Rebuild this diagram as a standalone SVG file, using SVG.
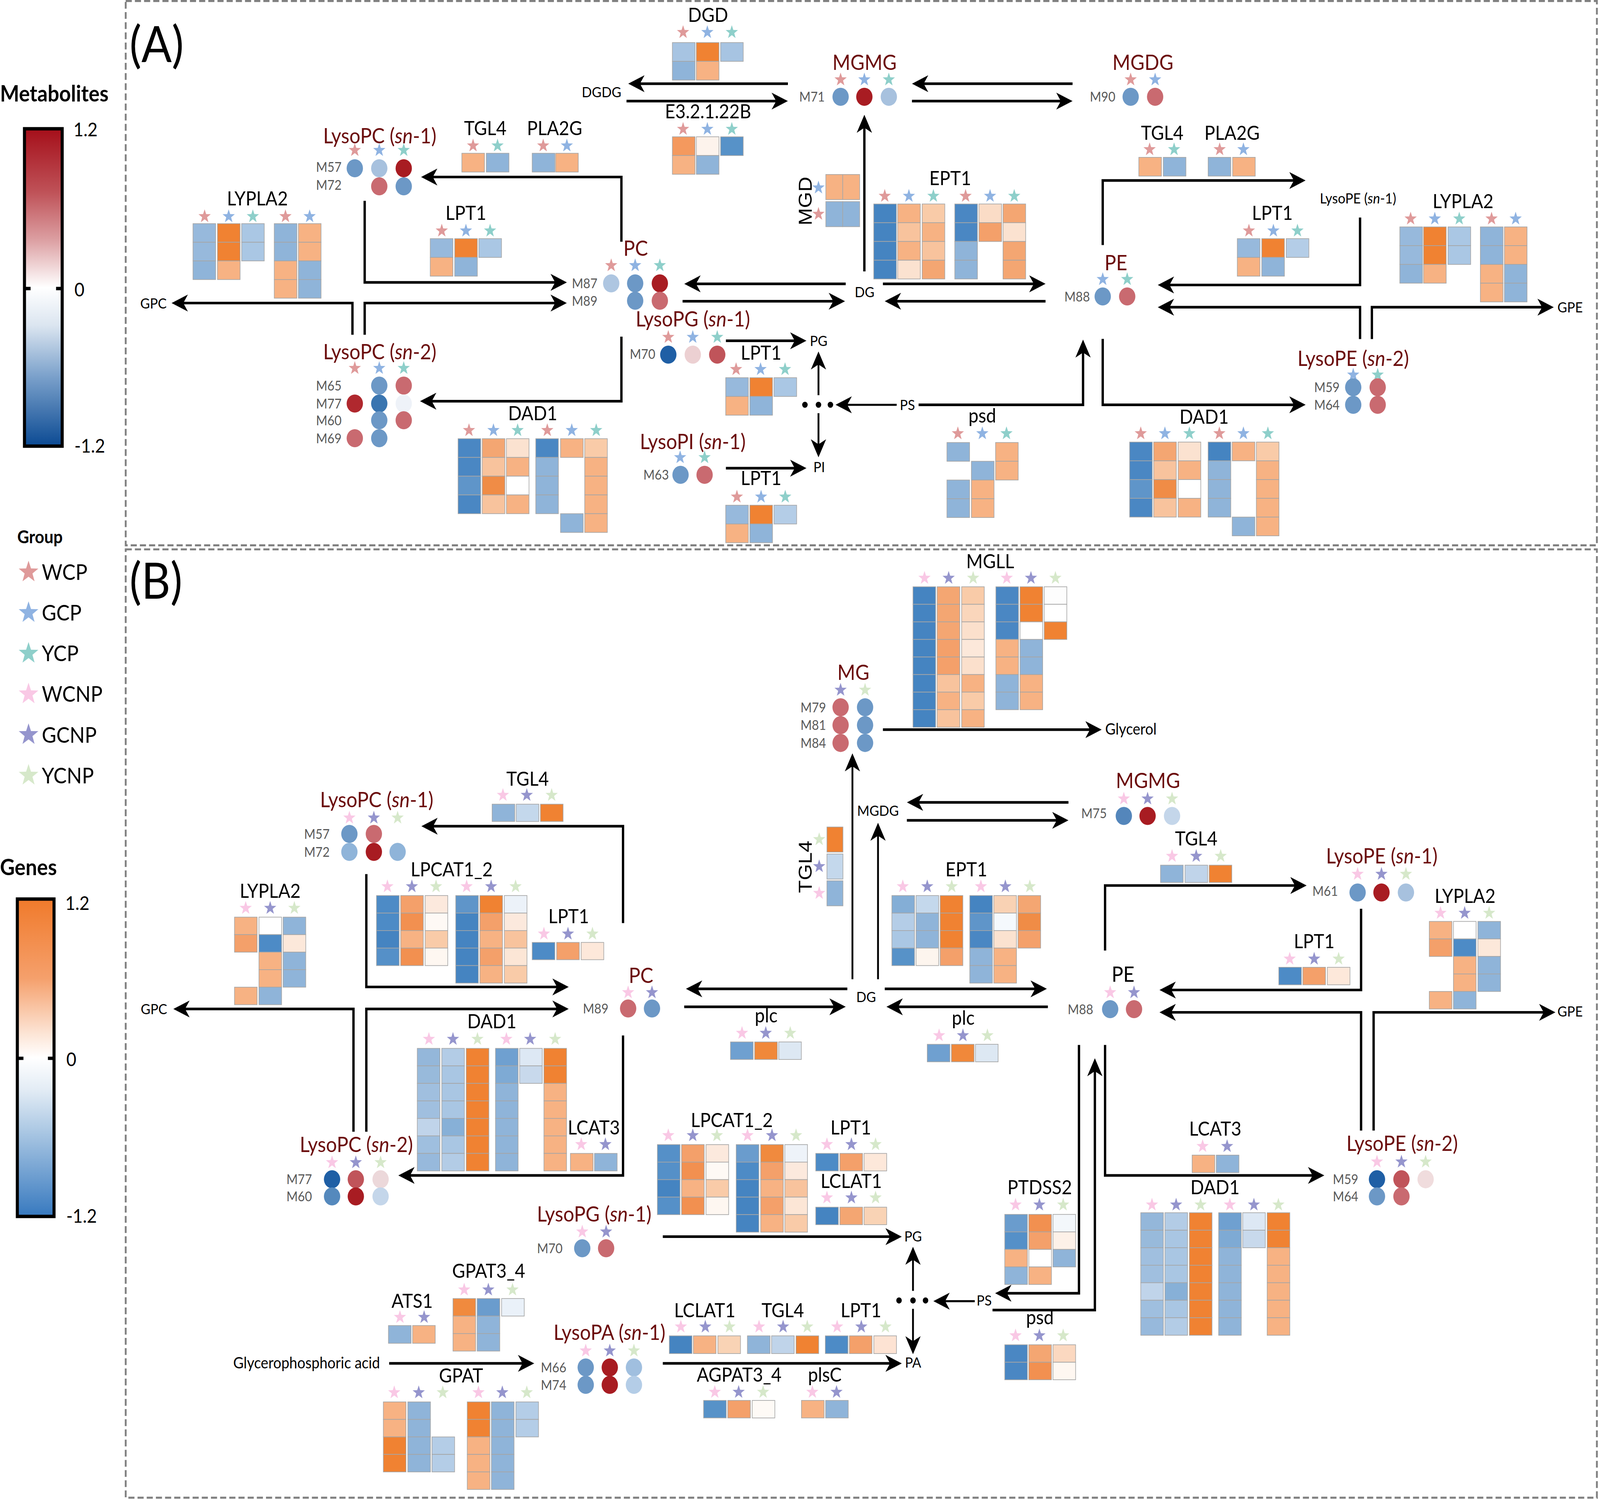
<svg xmlns="http://www.w3.org/2000/svg" width="4535" height="3841" viewBox="0 0 4535 3841">
<defs>
<style>
text{font-family:Lato,"Liberation Sans",sans-serif}
.g{font-size:17.5px;text-anchor:middle;fill:#000}
.m{font-size:19px;text-anchor:middle;fill:#6b0c0c}
.k{fill:#000}
.i{font-size:12px;text-anchor:end;fill:#595959}
.s{font-size:13px;text-anchor:middle;fill:#000}
.r{font-family:"Liberation Sans",Arial,sans-serif;font-size:18.5px;text-anchor:middle}
.ln{fill:none;stroke:#000;stroke-width:2.3;marker-end:url(#ah)}
.t{stroke-width:1.8}
.hm rect{stroke:#a6a6a6;stroke-width:.6}
.s1{fill:#df9a9a}.s2{fill:#8fb3e2}.s3{fill:#8ecfca}.s4{fill:#f9c8e5}.s5{fill:#9595cd}.s6{fill:#d6e8ca}
.box{fill:none;stroke:#808080;stroke-width:1.8;stroke-dasharray:6 3}
.leg{font-size:19.5px}
.b{font-weight:bold}
</style>
<path id="st" d="M0,-6.3L1.5,-2.05L6,-1.95L2.4,0.78L3.7,5.1L0,2.55L-3.7,5.1L-2.4,0.78L-6,-1.95L-1.5,-2.05Z"/>
<marker id="ah" viewBox="0 0 16 15" refX="13" refY="7.5" markerWidth="16" markerHeight="15" orient="auto" markerUnits="userSpaceOnUse"><path d="M0,0L16,7.5L0,15L4.5,7.5Z" fill="#000"/></marker>
<linearGradient id="gm" x1="0" y1="0" x2="0" y2="1">
<stop offset="0" stop-color="#a50f1a"/><stop offset="0.2" stop-color="#bf5258"/><stop offset="0.35" stop-color="#dc9fa2"/><stop offset="0.5" stop-color="#ffffff"/><stop offset="0.62" stop-color="#dbe5f0"/><stop offset="0.78" stop-color="#7ba1cb"/><stop offset="1" stop-color="#0b4a93"/>
</linearGradient>
<linearGradient id="gg" x1="0" y1="0" x2="0" y2="1">
<stop offset="0" stop-color="#f07a2b"/><stop offset="0.25" stop-color="#f5a06c"/><stop offset="0.42" stop-color="#fce3d3"/><stop offset="0.5" stop-color="#ffffff"/><stop offset="0.6" stop-color="#e3ecf5"/><stop offset="0.72" stop-color="#b0cbe5"/><stop offset="1" stop-color="#3779bf"/>
</linearGradient>
</defs>
<rect width="4535" height="3841" fill="#fff"/>
<g transform="scale(2.61,2.8922)">

<!-- panels -->
<rect class="box" x="123.3" y="0.9" width="1443" height="481.9"/>
<rect class="box" x="123.3" y="486.4" width="1443" height="839.6"/>
<text x="127" y="55" font-size="44">(A)</text>
<text x="127" y="530" font-size="44">(B)</text>

<!-- legend -->
<g id="legend">
<text class="b" x="0" y="90" font-size="20">Metabolites</text>
<rect x="24" y="114" width="37" height="281" fill="url(#gm)" stroke="#000" stroke-width="3"/>
<path d="M24,255.5h6M55,255.5h6" stroke="#000" stroke-width="3"/>
<text x="72" y="120.7" font-size="17">1.2</text>
<text x="73" y="262.5" font-size="17">0</text>
<text x="73" y="400.7" font-size="17">-1.2</text>
<text class="b" x="17" y="481" font-size="16">Group</text>
<use href="#st" class="s1" transform="translate(28,506.5) scale(1.6)"/><text class="leg" x="41" y="513.5">WCP</text>
<use href="#st" class="s2" transform="translate(28,542.5) scale(1.6)"/><text class="leg" x="41" y="549.5">GCP</text>
<use href="#st" class="s3" transform="translate(28,578.5) scale(1.6)"/><text class="leg" x="41" y="585.5">YCP</text>
<use href="#st" class="s4" transform="translate(28,614.5) scale(1.6)"/><text class="leg" x="41" y="621.5">WCNP</text>
<use href="#st" class="s5" transform="translate(28,650.5) scale(1.6)"/><text class="leg" x="41" y="657.5">GCNP</text>
<use href="#st" class="s6" transform="translate(28,686.5) scale(1.6)"/><text class="leg" x="41" y="693.5">YCNP</text>
<text class="b" x="0" y="775" font-size="20">Genes</text>
<rect x="17" y="796" width="36" height="281" fill="url(#gg)" stroke="#000" stroke-width="3"/>
<path d="M17,937h6M47,937h6" stroke="#000" stroke-width="3"/>
<text x="64" y="805.6" font-size="17">1.2</text>
<text x="65" y="944" font-size="17">0</text>
<text x="65" y="1082.6" font-size="17">-1.2</text>
</g>

<!-- connectors -->
<g id="connectors">
<path class="ln" d="M609.5,214V156.7H416"/>
<path class="ln" d="M357.7,177.8V250H553"/>
<path class="ln" d="M345.7,296.4V268.3H171.3"/>
<path class="ln" d="M357.7,296.4V268.3H553"/>
<path class="ln" d="M609.5,298V355.2H415"/>
<path class="ln" d="M772.8,74.1H619.2"/>
<path class="ln" d="M614.5,89.5H769.8"/>
<path class="ln" d="M1052,74.1H897.5"/>
<path class="ln" d="M894.5,89.5H1049"/>
<path class="ln" d="M847.8,240.3V104.6"/>
<path class="ln" d="M829.5,251.3H674.2"/>
<path class="ln" d="M669.5,266.7H825.8"/>
<path class="ln" d="M866,251.3H1022.5"/>
<path class="ln" d="M1025.5,266.7H870.8"/>
<path class="ln" d="M712,301.7H788"/>
<path class="ln t" d="M802.8,349.9V314.2"/>
<path class="ln t" d="M802.8,365.8V401.9"/>
<path class="ln" d="M712,414.5H788"/>
<path class="ln t" d="M879.5,358.4H822.5"/>
<path class="ln" d="M901,358.4H1062.3V303.6"/>
<path class="ln" d="M1081.6,217V159.8H1277.6"/>
<path class="ln" d="M1334,192.6V252.3H1138.6"/>
<path class="ln" d="M1334,300.2V272H1138.6"/>
<path class="ln" d="M1345.6,300.2V272H1521"/>
<path class="ln" d="M1081.6,300V358.4H1277.6"/>
<circle cx="789.5" cy="358.4" r="2.7"/><circle cx="802.8" cy="358.4" r="2.7"/><circle cx="814.5" cy="358.4" r="2.7"/>

<path class="ln" d="M611.1,817.3V731.5H416.3"/>
<path class="ln" d="M359.3,773.9V873.8H554.8"/>
<path class="ln" d="M346.7,1002V893.3H173"/>
<path class="ln" d="M359.3,1002V893.3H554.8"/>
<path class="ln" d="M611.1,916.8V1040.7H393.7"/>
<path class="ln" d="M831.1,875.5H675.8"/>
<path class="ln" d="M671.1,891.4H826.5"/>
<path class="ln" d="M867.8,875.5H1023.8"/>
<path class="ln" d="M1027.8,891.4H872.5"/>
<path class="ln t" d="M836.1,867V670"/>
<path class="ln t" d="M861.2,867V731.4"/>
<path class="ln" d="M1048,710.4H892.5"/>
<path class="ln" d="M889.5,726.3H1045"/>
<path class="ln" d="M866,646H1077.6"/>
<path class="ln" d="M1083.9,841.6V784H1278.6"/>
<path class="ln" d="M1335,804.6V876.5H1140.3"/>
<path class="ln" d="M1335,1001V896.3H1140.3"/>
<path class="ln" d="M1347.3,1001V896.3H1522.6"/>
<path class="ln" d="M1083.9,925.2V1040.7H1295.9"/>
<path class="ln" d="M1058.3,925.2V1145H979.1"/>
<path class="ln" d="M973.5,1159.9H1073.9V939.9"/>
<path class="ln t" d="M956.1,1152H918.5"/>
<path class="ln t" d="M895.5,1142.9V1106.8"/>
<path class="ln t" d="M895.5,1158.8V1196"/>
<path class="ln" d="M650.1,1094.9H881.5"/>
<path class="ln" d="M650.1,1207.1H881.5"/>
<path class="ln" d="M381.7,1207.1H521"/>
<circle cx="881.8" cy="1151.4" r="2.7"/><circle cx="895.5" cy="1151.4" r="2.7"/><circle cx="907.8" cy="1151.4" r="2.7"/>
</g>

<!-- small node labels -->
<g id="small-labels">
<text class="s" x="590" y="86">DGDG</text>
<text class="s" x="150.5" y="273">GPC</text>
<text class="s" x="848" y="263.2">DG</text>
<text class="s" x="803" y="306.2">PG</text>
<text class="s" x="803.5" y="418">PI</text>
<text class="s" x="890" y="362.9">PS</text>
<text class="s" x="1540" y="276.5">GPE</text>
<text class="s" x="1332" y="180">LysoPE (<tspan font-style="italic">sn</tspan>-1)</text>
<text class="s" x="151" y="897.8">GPC</text>
<text class="s" x="849.5" y="887.2">DG</text>
<text class="s" x="895.6" y="1099.2">PG</text>
<text class="s" x="895.6" y="1210.9">PA</text>
<text class="s" x="965.3" y="1155.9">PS</text>
<text class="s" x="1540" y="900">GPE</text>
<text class="s" x="861.2" y="722.3">MGDG</text>
<text x="1084" y="650.5" font-size="14">Glycerol</text>
<text x="372.7" y="1211.4" font-size="14" text-anchor="end">Glycerophosphoric acid</text>
</g>

<!-- ===== Panel A nodes ===== -->
<g id="a-tgl4-l"><text class="g" x="476" y="119.6">TGL4</text>
<use href="#st" class="s1" x="464" y="129"/><use href="#st" class="s3" x="488" y="129"/>
<g class="hm"><rect x="453" y="135.7" width="22.2" height="16.6" fill="#f7b283"/><rect x="477" y="135.7" width="22.2" height="16.6" fill="#8fb4d9"/></g></g>

<g id="a-pla2g-l"><text class="g" x="544" y="119.6">PLA2G</text>
<use href="#st" class="s1" x="532.8" y="129"/><use href="#st" class="s2" x="556" y="129"/>
<g class="hm"><rect x="522" y="135.7" width="22.2" height="16.6" fill="#8fb4d9"/><rect x="545" y="135.7" width="22.2" height="16.6" fill="#f7b283"/></g></g>

<g id="a-lypla2-l"><text class="g" x="252.5" y="182">LYPLA2</text>
<use href="#st" class="s1" x="200.7" y="191.6"/><use href="#st" class="s2" x="224.3" y="191.6"/><use href="#st" class="s3" x="248" y="191.6"/><use href="#st" class="s1" x="280" y="191.6"/><use href="#st" class="s2" x="303.7" y="191.6"/>
<g class="hm">
<rect x="189.3" y="198" width="22.2" height="16.5" fill="#97b9dc"/><rect x="189.3" y="214.5" width="22.2" height="16.5" fill="#97b9dc"/><rect x="189.3" y="231" width="22.2" height="16.5" fill="#8fb4d9"/>
<rect x="213.3" y="198" width="22.2" height="16.5" fill="#f08232"/><rect x="213.3" y="214.5" width="22.2" height="16.5" fill="#f08232"/><rect x="213.3" y="231" width="22.2" height="16.5" fill="#f7b283"/>
<rect x="237" y="198" width="22.2" height="16.5" fill="#aac7e4"/><rect x="237" y="214.5" width="22.2" height="16.5" fill="#aac7e4"/>
<rect x="269" y="198" width="22.2" height="16.5" fill="#8fb4d9"/><rect x="269" y="214.5" width="22.2" height="16.5" fill="#8fb4d9"/><rect x="269" y="231" width="22.2" height="16.5" fill="#f7b283"/><rect x="269" y="247.5" width="22.2" height="16.5" fill="#f7b283"/>
<rect x="292.7" y="198" width="22.2" height="16.5" fill="#f7b283"/><rect x="292.7" y="214.5" width="22.2" height="16.5" fill="#f7b283"/><rect x="292.7" y="231" width="22.2" height="16.5" fill="#8fb4d9"/><rect x="292.7" y="247.5" width="22.2" height="16.5" fill="#8fb4d9"/>
</g></g>

<g id="a-lpt1-l"><text class="g" x="457" y="194.8">LPT1</text>
<use href="#st" class="s1" x="433.3" y="204.3"/><use href="#st" class="s2" x="457" y="204.3"/><use href="#st" class="s3" x="480.7" y="204.3"/>
<g class="hm"><rect x="422" y="211.3" width="22.2" height="16.6" fill="#97b9dc"/><rect x="422" y="227.9" width="22.2" height="16.6" fill="#f7b283"/><rect x="446" y="211.3" width="22.2" height="16.6" fill="#f08232"/><rect x="446" y="227.9" width="22.2" height="16.6" fill="#8fb4d9"/><rect x="469.7" y="211.3" width="22.2" height="16.6" fill="#aac7e4"/></g></g>

<g id="a-dgd"><text class="g" x="694.5" y="19.5">DGD</text>
<use href="#st" class="s1" x="670" y="28.6"/><use href="#st" class="s2" x="693.8" y="28.6"/><use href="#st" class="s3" x="717.8" y="28.6"/>
<g class="hm"><rect x="659.5" y="37.7" width="22.2" height="16.6" fill="#a7c4e2"/><rect x="659.5" y="54.3" width="22.2" height="16.6" fill="#8fb4d9"/><rect x="683" y="37.7" width="22.2" height="16.6" fill="#f08232"/><rect x="683" y="54.3" width="22.2" height="16.6" fill="#f7b283"/><rect x="706.8" y="37.7" width="22.2" height="16.6" fill="#a7c4e2"/></g></g>

<g id="a-e3"><text class="g" x="694.5" y="104.8">E3.2.1.22B</text>
<use href="#st" class="s1" x="670" y="114.3"/><use href="#st" class="s2" x="693.8" y="114.3"/><use href="#st" class="s3" x="717.8" y="114.3"/>
<g class="hm"><rect x="659.5" y="121.1" width="22.2" height="16.6" fill="#f4995e"/><rect x="659.5" y="137.7" width="22.2" height="16.6" fill="#f7b283"/><rect x="683" y="121.1" width="22.2" height="16.6" fill="#fdf3ec"/><rect x="683" y="137.7" width="22.2" height="16.6" fill="#8fb4d9"/><rect x="706.8" y="121.1" width="22.2" height="16.6" fill="#5792c8"/></g></g>

<g id="a-mgd"><text class="r" transform="translate(796,178) rotate(-90)">MGD</text>
<use href="#st" class="s2" x="802.8" y="166.2"/><use href="#st" class="s1" x="802.8" y="189.5"/>
<g class="hm"><rect x="810" y="154.5" width="16.6" height="22.2" fill="#f7b283"/><rect x="826.6" y="154.5" width="16.6" height="22.2" fill="#f7b283"/><rect x="810" y="178.5" width="16.6" height="22.2" fill="#8fb4d9"/><rect x="826.6" y="178.5" width="16.6" height="22.2" fill="#8fb4d9"/></g></g>

<g id="a-ept1"><text class="g" x="932" y="164">EPT1</text>
<use href="#st" class="s1" x="867.8" y="173.6"/><use href="#st" class="s2" x="891.5" y="173.6"/><use href="#st" class="s3" x="915.5" y="173.6"/><use href="#st" class="s1" x="947.1" y="173.6"/><use href="#st" class="s2" x="971.1" y="173.6"/><use href="#st" class="s3" x="994.8" y="173.6"/>
<g class="hm">
<rect x="857" y="180.6" width="22.2" height="16.6" fill="#4584c1"/><rect x="857" y="197.2" width="22.2" height="16.6" fill="#4584c1"/><rect x="857" y="213.8" width="22.2" height="16.6" fill="#4584c1"/><rect x="857" y="230.4" width="22.2" height="16.6" fill="#4584c1"/>
<rect x="880.5" y="180.6" width="22.2" height="16.6" fill="#f7b283"/><rect x="880.5" y="197.2" width="22.2" height="16.6" fill="#f8c39d"/><rect x="880.5" y="213.8" width="22.2" height="16.6" fill="#f7b283"/><rect x="880.5" y="230.4" width="22.2" height="16.6" fill="#fbe2d0"/>
<rect x="904.5" y="180.6" width="22.2" height="16.6" fill="#f9cba8"/><rect x="904.5" y="197.2" width="22.2" height="16.6" fill="#f7b283"/><rect x="904.5" y="213.8" width="22.2" height="16.6" fill="#f8c39d"/><rect x="904.5" y="230.4" width="22.2" height="16.6" fill="#f4a672"/>
<rect x="936.5" y="180.6" width="22.2" height="16.6" fill="#4a87c3"/><rect x="936.5" y="197.2" width="22.2" height="16.6" fill="#4a87c3"/><rect x="936.5" y="213.8" width="22.2" height="16.6" fill="#8fb4d9"/><rect x="936.5" y="230.4" width="22.2" height="16.6" fill="#8fb4d9"/>
<rect x="960.2" y="180.6" width="22.2" height="16.6" fill="#fadcc6"/><rect x="960.2" y="197.2" width="22.2" height="16.6" fill="#f4a06a"/>
<rect x="983.8" y="180.6" width="22.2" height="16.6" fill="#f4a672"/><rect x="983.8" y="197.2" width="22.2" height="16.6" fill="#fbe2d0"/><rect x="983.8" y="213.8" width="22.2" height="16.6" fill="#f4a672"/><rect x="983.8" y="230.4" width="22.2" height="16.6" fill="#f4a672"/>
</g></g>

<g id="a-mgmg"><text class="m" x="848" y="62">MGMG</text>
<use href="#st" class="s1" x="824.5" y="70.5"/><use href="#st" class="s2" x="847.8" y="70.5"/><use href="#st" class="s3" x="871.8" y="70.5"/>
<text class="i" x="809" y="90">M71</text>
<circle cx="824.5" cy="85.7" r="8" fill="#6c98c6"/><circle cx="847.8" cy="85.7" r="8" fill="#a81c22"/><circle cx="871.8" cy="85.7" r="8" fill="#a7c1de"/></g>

<g id="a-mgdg"><text class="m" x="1121" y="62">MGDG</text>
<use href="#st" class="s1" x="1109" y="70.5"/><use href="#st" class="s2" x="1133" y="70.5"/>
<text class="i" x="1094" y="90">M90</text>
<circle cx="1109" cy="85.7" r="8" fill="#6c98c6"/><circle cx="1133" cy="85.7" r="8" fill="#c96a70"/></g>

<g id="a-tgl4-r"><text class="g" x="1140" y="123.8">TGL4</text>
<use href="#st" class="s1" x="1127.6" y="132.3"/><use href="#st" class="s3" x="1151.6" y="132.3"/>
<g class="hm"><rect x="1117" y="139.3" width="22.2" height="16.6" fill="#f7b283"/><rect x="1141" y="139.3" width="22.2" height="16.6" fill="#8fb4d9"/></g></g>

<g id="a-pla2g-r"><text class="g" x="1208.5" y="123.8">PLA2G</text>
<use href="#st" class="s1" x="1196.3" y="132.3"/><use href="#st" class="s2" x="1219.6" y="132.3"/>
<g class="hm"><rect x="1185" y="139.3" width="22.2" height="16.6" fill="#8fb4d9"/><rect x="1209" y="139.3" width="22.2" height="16.6" fill="#f7b283"/></g></g>

<g id="a-lpt1-r"><text class="g" x="1248" y="194.8">LPT1</text>
<use href="#st" class="s1" x="1225" y="204.3"/><use href="#st" class="s2" x="1249" y="204.3"/><use href="#st" class="s3" x="1272.6" y="204.3"/>
<g class="hm"><rect x="1213.6" y="211.3" width="22.2" height="16.6" fill="#97b9dc"/><rect x="1213.6" y="227.9" width="22.2" height="16.6" fill="#f7b283"/><rect x="1237.6" y="211.3" width="22.2" height="16.6" fill="#f08232"/><rect x="1237.6" y="227.9" width="22.2" height="16.6" fill="#8fb4d9"/><rect x="1261.6" y="211.3" width="22.2" height="16.6" fill="#b4cde7"/></g></g>

<g id="a-lypla2-r"><text class="g" x="1435" y="184.2">LYPLA2</text>
<use href="#st" class="s1" x="1383.6" y="193.7"/><use href="#st" class="s2" x="1407.3" y="193.7"/><use href="#st" class="s3" x="1431.3" y="193.7"/><use href="#st" class="s1" x="1463" y="193.7"/><use href="#st" class="s2" x="1486.6" y="193.7"/>
<g class="hm">
<rect x="1373" y="200.9" width="22.2" height="16.6" fill="#97b9dc"/><rect x="1373" y="217.5" width="22.2" height="16.6" fill="#97b9dc"/><rect x="1373" y="234.1" width="22.2" height="16.6" fill="#8fb4d9"/>
<rect x="1396.3" y="200.9" width="22.2" height="16.6" fill="#f08232"/><rect x="1396.3" y="217.5" width="22.2" height="16.6" fill="#f08232"/><rect x="1396.3" y="234.1" width="22.2" height="16.6" fill="#f7b283"/>
<rect x="1420.3" y="200.9" width="22.2" height="16.6" fill="#aac7e4"/><rect x="1420.3" y="217.5" width="22.2" height="16.6" fill="#aac7e4"/>
<rect x="1452" y="200.9" width="22.2" height="16.6" fill="#8fb4d9"/><rect x="1452" y="217.5" width="22.2" height="16.6" fill="#8fb4d9"/><rect x="1452" y="234.1" width="22.2" height="16.6" fill="#f7b283"/><rect x="1452" y="250.7" width="22.2" height="16.6" fill="#f7b283"/>
<rect x="1475.6" y="200.9" width="22.2" height="16.6" fill="#f7b283"/><rect x="1475.6" y="217.5" width="22.2" height="16.6" fill="#f7b283"/><rect x="1475.6" y="234.1" width="22.2" height="16.6" fill="#8fb4d9"/><rect x="1475.6" y="250.7" width="22.2" height="16.6" fill="#8fb4d9"/>
</g></g>

<g id="a-pc"><text class="m" x="623.5" y="226.5">PC</text>
<use href="#st" class="s1" x="599.5" y="235"/><use href="#st" class="s2" x="623" y="235"/><use href="#st" class="s3" x="647.2" y="235"/>
<text class="i" x="586" y="255.2">M87</text><text class="i" x="586" y="270.6">M89</text>
<circle cx="599.5" cy="250.9" r="8" fill="#aec6e1"/><circle cx="623" cy="250.9" r="8" fill="#6c98c6"/><circle cx="647.2" cy="250.9" r="8" fill="#a81c22"/>
<circle cx="623" cy="266.3" r="8" fill="#6c98c6"/><circle cx="647.2" cy="266.3" r="8" fill="#c96a70"/></g>

<g id="a-lysopc1"><text class="m" x="372.5" y="127">LysoPC (<tspan font-style="italic">sn</tspan>-1)</text>
<use href="#st" class="s1" x="348" y="133"/><use href="#st" class="s2" x="372" y="133"/><use href="#st" class="s3" x="396" y="133"/>
<text class="i" x="335" y="152.3">M57</text><text class="i" x="335" y="167.9">M72</text>
<circle cx="348" cy="149" r="8" fill="#6c98c6"/><circle cx="372" cy="149" r="8" fill="#a7c1de"/><circle cx="396" cy="149" r="8" fill="#a81c22"/>
<circle cx="372" cy="165" r="8" fill="#c96a70"/><circle cx="396" cy="165" r="8" fill="#6c98c6"/></g>

<g id="a-lysopc2"><text class="m" x="372.5" y="318">LysoPC (<tspan font-style="italic">sn</tspan>-2)</text>
<use href="#st" class="s1" x="348" y="326"/><use href="#st" class="s2" x="372" y="326"/><use href="#st" class="s3" x="396" y="326"/>
<text class="i" x="335" y="345.7">M65</text><text class="i" x="335" y="361.6">M77</text><text class="i" x="335" y="376.4">M60</text><text class="i" x="335" y="392.3">M69</text>
<circle cx="372" cy="341.4" r="8" fill="#6c98c6"/><circle cx="396" cy="341.4" r="8" fill="#c96a70"/>
<circle cx="348" cy="357.3" r="8" fill="#b0282e"/><circle cx="372" cy="357.3" r="8" fill="#3a75b0"/><circle cx="396" cy="357.3" r="8" fill="#eef2f8"/>
<circle cx="372" cy="372.1" r="8" fill="#6c98c6"/><circle cx="396" cy="372.1" r="8" fill="#c96a70"/>
<circle cx="348" cy="388" r="8" fill="#c96a70"/><circle cx="372" cy="388" r="8" fill="#6c98c6"/></g>

<g id="a-dad1-l"><text class="g" x="522.5" y="372">DAD1</text>
<use href="#st" class="s1" x="460" y="381"/><use href="#st" class="s2" x="484" y="381"/><use href="#st" class="s3" x="507.7" y="381"/><use href="#st" class="s1" x="536.8" y="381"/><use href="#st" class="s2" x="560.8" y="381"/><use href="#st" class="s3" x="584.8" y="381"/>
<g class="hm">
<rect x="449.3" y="388.4" width="22.2" height="16.6" fill="#4a87c3"/><rect x="449.3" y="405" width="22.2" height="16.6" fill="#4a87c3"/><rect x="449.3" y="421.6" width="22.2" height="16.6" fill="#5f95c9"/><rect x="449.3" y="438.2" width="22.2" height="16.6" fill="#4a87c3"/>
<rect x="473" y="388.4" width="22.2" height="16.6" fill="#f4a672"/><rect x="473" y="405" width="22.2" height="16.6" fill="#f8c39d"/><rect x="473" y="421.6" width="22.2" height="16.6" fill="#f08c46"/><rect x="473" y="438.2" width="22.2" height="16.6" fill="#f8c39d"/>
<rect x="496.7" y="388.4" width="22.2" height="16.6" fill="#fbe2d0"/><rect x="496.7" y="405" width="22.2" height="16.6" fill="#f7b283"/><rect x="496.7" y="421.6" width="22.2" height="16.6" fill="#ffffff"/><rect x="496.7" y="438.2" width="22.2" height="16.6" fill="#f7b283"/>
<rect x="525.5" y="388.4" width="22.2" height="16.6" fill="#4a87c3"/><rect x="525.5" y="405" width="22.2" height="16.6" fill="#8fb4d9"/><rect x="525.5" y="421.6" width="22.2" height="16.6" fill="#8fb4d9"/><rect x="525.5" y="438.2" width="22.2" height="16.6" fill="#8fb4d9"/>
<rect x="549.8" y="388.4" width="22.2" height="16.6" fill="#f7b283"/><rect x="549.8" y="454.8" width="22.2" height="16.6" fill="#8fb4d9"/>
<rect x="573.5" y="388.4" width="22.2" height="16.6" fill="#f9cba8"/><rect x="573.5" y="405" width="22.2" height="16.6" fill="#f7b283"/><rect x="573.5" y="421.6" width="22.2" height="16.6" fill="#f7b283"/><rect x="573.5" y="438.2" width="22.2" height="16.6" fill="#f7b283"/><rect x="573.5" y="454.8" width="22.2" height="16.6" fill="#f7b283"/>
</g></g>

<g id="a-lysopg"><text class="m" x="679.6" y="289">LysoPG (<tspan font-style="italic">sn</tspan>-1)</text>
<use href="#st" class="s1" x="655.5" y="298.5"/><use href="#st" class="s2" x="679.5" y="298.5"/><use href="#st" class="s3" x="703.5" y="298.5"/>
<text class="i" x="642.8" y="317.6">M70</text>
<circle cx="655.5" cy="314" r="8" fill="#1f5fa5"/><circle cx="679.5" cy="314" r="8" fill="#ecd0d2"/><circle cx="703.5" cy="314" r="8" fill="#c0545a"/></g>

<g id="a-lpt1-pg"><text class="g" x="746.5" y="318.6">LPT1</text>
<use href="#st" class="s1" x="722" y="327"/><use href="#st" class="s2" x="746" y="327"/><use href="#st" class="s3" x="770" y="327"/>
<g class="hm"><rect x="711.8" y="334.4" width="22.2" height="16.6" fill="#97b9dc"/><rect x="711.8" y="351" width="22.2" height="16.6" fill="#f7b283"/><rect x="735.5" y="334.4" width="22.2" height="16.6" fill="#f08232"/><rect x="735.5" y="351" width="22.2" height="16.6" fill="#8fb4d9"/><rect x="759.2" y="334.4" width="22.2" height="16.6" fill="#aac7e4"/></g></g>

<g id="a-lysopi"><text class="m" x="679.5" y="397.5">LysoPI (<tspan font-style="italic">sn</tspan>-1)</text>
<use href="#st" class="s2" x="667.1" y="405"/><use href="#st" class="s3" x="691.1" y="405"/>
<text class="i" x="656.1" y="424.7">M63</text>
<circle cx="667.5" cy="420.4" r="8" fill="#6c98c6"/><circle cx="691.1" cy="420.4" r="8" fill="#c96a70"/></g>

<g id="a-lpt1-pi"><text class="g" x="746.5" y="429.3">LPT1</text>
<use href="#st" class="s1" x="722.8" y="439.9"/><use href="#st" class="s2" x="746.5" y="439.9"/><use href="#st" class="s3" x="770.2" y="439.9"/>
<g class="hm"><rect x="711.8" y="447.3" width="22.2" height="16.6" fill="#97b9dc"/><rect x="711.8" y="463.9" width="22.2" height="16.6" fill="#f7b283"/><rect x="735.5" y="447.3" width="22.2" height="16.6" fill="#f08232"/><rect x="735.5" y="463.9" width="22.2" height="16.6" fill="#8fb4d9"/><rect x="759.2" y="447.3" width="22.2" height="16.6" fill="#b4cde7"/></g></g>

<g id="a-psd"><text class="g" x="963.5" y="374.2">psd</text>
<use href="#st" class="s1" x="939.5" y="383.8"/><use href="#st" class="s2" x="963.5" y="383.8"/><use href="#st" class="s3" x="987.2" y="383.8"/>
<g class="hm">
<rect x="928.8" y="391.8" width="22.2" height="16.6" fill="#8fb4d9"/><rect x="928.8" y="425" width="22.2" height="16.6" fill="#8fb4d9"/><rect x="928.8" y="441.6" width="22.2" height="16.6" fill="#8fb4d9"/>
<rect x="952.8" y="408.4" width="22.2" height="16.6" fill="#8fb4d9"/><rect x="952.8" y="425" width="22.2" height="16.6" fill="#f7b283"/><rect x="952.8" y="441.6" width="22.2" height="16.6" fill="#f7b283"/>
<rect x="976.5" y="391.8" width="22.2" height="16.6" fill="#f7b283"/><rect x="976.5" y="408.4" width="22.2" height="16.6" fill="#f7b283"/>
</g></g>

<g id="a-pe"><text class="m" x="1094.5" y="239.2">PE</text>
<use href="#st" class="s2" x="1081.6" y="247.3"/><use href="#st" class="s3" x="1105.6" y="247.3"/>
<text class="i" x="1069" y="266.8">M88</text>
<circle cx="1081.6" cy="262.5" r="8" fill="#6c98c6"/><circle cx="1105.6" cy="262.5" r="8" fill="#c96a70"/></g>

<g id="a-lysope2"><text class="m" x="1327.3" y="324">LysoPE (<tspan font-style="italic">sn</tspan>-2)</text>
<use href="#st" class="s2" x="1327.3" y="331.9"/><use href="#st" class="s3" x="1351.3" y="331.9"/>
<text class="i" x="1314" y="347.2">M59</text><text class="i" x="1314" y="362.7">M64</text>
<circle cx="1327.3" cy="342.9" r="8" fill="#6c98c6"/><circle cx="1351.3" cy="342.9" r="8" fill="#c96a70"/>
<circle cx="1327.3" cy="358.4" r="8" fill="#6c98c6"/><circle cx="1351.3" cy="358.4" r="8" fill="#c96a70"/></g>

<g id="a-dad1-r"><text class="g" x="1181" y="375.3">DAD1</text>
<use href="#st" class="s1" x="1118.9" y="383.8"/><use href="#st" class="s2" x="1142.6" y="383.8"/><use href="#st" class="s3" x="1166.6" y="383.8"/><use href="#st" class="s1" x="1196" y="383.8"/><use href="#st" class="s2" x="1219.6" y="383.8"/><use href="#st" class="s3" x="1243.6" y="383.8"/>
<g class="hm">
<rect x="1108" y="391.4" width="22.2" height="16.6" fill="#4a87c3"/><rect x="1108" y="408" width="22.2" height="16.6" fill="#4a87c3"/><rect x="1108" y="424.6" width="22.2" height="16.6" fill="#5f95c9"/><rect x="1108" y="441.2" width="22.2" height="16.6" fill="#4a87c3"/>
<rect x="1131.6" y="391.4" width="22.2" height="16.6" fill="#f4a672"/><rect x="1131.6" y="408" width="22.2" height="16.6" fill="#f8c39d"/><rect x="1131.6" y="424.6" width="22.2" height="16.6" fill="#f08c46"/><rect x="1131.6" y="441.2" width="22.2" height="16.6" fill="#f8c39d"/>
<rect x="1155.6" y="391.4" width="22.2" height="16.6" fill="#fbe2d0"/><rect x="1155.6" y="408" width="22.2" height="16.6" fill="#f7b283"/><rect x="1155.6" y="424.6" width="22.2" height="16.6" fill="#ffffff"/><rect x="1155.6" y="441.2" width="22.2" height="16.6" fill="#f7b283"/>
<rect x="1185" y="391.4" width="22.2" height="16.6" fill="#4584c1"/><rect x="1185" y="408" width="22.2" height="16.6" fill="#8fb4d9"/><rect x="1185" y="424.6" width="22.2" height="16.6" fill="#8fb4d9"/><rect x="1185" y="441.2" width="22.2" height="16.6" fill="#8fb4d9"/>
<rect x="1208.6" y="391.4" width="22.2" height="16.6" fill="#f7b283"/><rect x="1208.6" y="457.8" width="22.2" height="16.6" fill="#8fb4d9"/>
<rect x="1232.3" y="391.4" width="22.2" height="16.6" fill="#f9cba8"/><rect x="1232.3" y="408" width="22.2" height="16.6" fill="#f7b283"/><rect x="1232.3" y="424.6" width="22.2" height="16.6" fill="#f7b283"/><rect x="1232.3" y="441.2" width="22.2" height="16.6" fill="#f7b283"/><rect x="1232.3" y="457.8" width="22.2" height="16.6" fill="#f7b283"/>
</g></g>

<!-- ===== Panel B nodes ===== -->
<g id="b-mgll"><text class="g" x="971.2" y="503">MGLL</text>
<use href="#st" class="s4" x="906.8" y="511.8"/><use href="#st" class="s5" x="930.5" y="511.8"/><use href="#st" class="s6" x="954.5" y="511.8"/><use href="#st" class="s4" x="987.5" y="511.8"/><use href="#st" class="s5" x="1011.2" y="511.8"/><use href="#st" class="s6" x="1035.2" y="511.8"/>
<g class="hm">
<rect x="895.5" y="519.5" width="22.2" height="15.55" fill="#4584c1"/><rect x="895.5" y="535.05" width="22.2" height="15.55" fill="#4584c1"/><rect x="895.5" y="550.6" width="22.2" height="15.55" fill="#4584c1"/><rect x="895.5" y="566.15" width="22.2" height="15.55" fill="#4584c1"/><rect x="895.5" y="581.7" width="22.2" height="15.55" fill="#4584c1"/><rect x="895.5" y="597.25" width="22.2" height="15.55" fill="#4584c1"/><rect x="895.5" y="612.8" width="22.2" height="15.55" fill="#4584c1"/><rect x="895.5" y="628.35" width="22.2" height="15.55" fill="#4584c1"/>
<rect x="919.2" y="519.5" width="22.2" height="15.55" fill="#f4a672"/><rect x="919.2" y="535.05" width="22.2" height="15.55" fill="#f4a672"/><rect x="919.2" y="550.6" width="22.2" height="15.55" fill="#f4a672"/><rect x="919.2" y="566.15" width="22.2" height="15.55" fill="#f4a06a"/><rect x="919.2" y="581.7" width="22.2" height="15.55" fill="#f4a06a"/><rect x="919.2" y="597.25" width="22.2" height="15.55" fill="#f8c39d"/><rect x="919.2" y="612.8" width="22.2" height="15.55" fill="#f7b283"/><rect x="919.2" y="628.35" width="22.2" height="15.55" fill="#f8c39d"/>
<rect x="943.2" y="519.5" width="22.2" height="15.55" fill="#f9cba8"/><rect x="943.2" y="535.05" width="22.2" height="15.55" fill="#fad6bb"/><rect x="943.2" y="550.6" width="22.2" height="15.55" fill="#fbe0cc"/><rect x="943.2" y="566.15" width="22.2" height="15.55" fill="#fce8da"/><rect x="943.2" y="581.7" width="22.2" height="15.55" fill="#fbe0cc"/><rect x="943.2" y="597.25" width="22.2" height="15.55" fill="#f7b283"/><rect x="943.2" y="612.8" width="22.2" height="15.55" fill="#f9cba8"/><rect x="943.2" y="628.35" width="22.2" height="15.55" fill="#f7b283"/>
<rect x="976.8" y="519.5" width="22.2" height="15.55" fill="#4a87c3"/><rect x="976.8" y="535.05" width="22.2" height="15.55" fill="#4a87c3"/><rect x="976.8" y="550.6" width="22.2" height="15.55" fill="#4a87c3"/><rect x="976.8" y="566.15" width="22.2" height="15.55" fill="#f7b283"/><rect x="976.8" y="581.7" width="22.2" height="15.55" fill="#f7b283"/><rect x="976.8" y="597.25" width="22.2" height="15.55" fill="#8fb4d9"/><rect x="976.8" y="612.8" width="22.2" height="15.55" fill="#8fb4d9"/>
<rect x="1000.5" y="519.5" width="22.2" height="15.55" fill="#f08232"/><rect x="1000.5" y="535.05" width="22.2" height="15.55" fill="#f08232"/><rect x="1000.5" y="550.6" width="22.2" height="15.55" fill="#ffffff"/><rect x="1000.5" y="566.15" width="22.2" height="15.55" fill="#8fb4d9"/><rect x="1000.5" y="581.7" width="22.2" height="15.55" fill="#8fb4d9"/><rect x="1000.5" y="597.25" width="22.2" height="15.55" fill="#f7b283"/><rect x="1000.5" y="612.8" width="22.2" height="15.55" fill="#f7b283"/>
<rect x="1024.2" y="519.5" width="22.2" height="15.55" fill="#fdfdfd"/><rect x="1024.2" y="535.05" width="22.2" height="15.55" fill="#ffffff"/><rect x="1024.2" y="550.6" width="22.2" height="15.55" fill="#f08232"/>
</g></g>

<g id="b-mg"><text class="m" x="837" y="601.8">MG</text>
<use href="#st" class="s5" x="824.5" y="610.9"/><use href="#st" class="s6" x="848.5" y="610.9"/>
<text class="i" x="810.2" y="630.5">M79</text><text class="i" x="810.2" y="646.3">M81</text><text class="i" x="810.2" y="662.1">M84</text>
<circle cx="824.5" cy="626.2" r="8" fill="#c96a70"/><circle cx="848.5" cy="626.2" r="8" fill="#6c98c6"/>
<circle cx="824.5" cy="642" r="8" fill="#c96a70"/><circle cx="848.5" cy="642" r="8" fill="#6c98c6"/>
<circle cx="824.5" cy="657.8" r="8" fill="#c96a70"/><circle cx="848.5" cy="657.8" r="8" fill="#6c98c6"/></g>

<g id="b-mgmg"><text class="m" x="1126" y="697.7">MGMG</text>
<use href="#st" class="s4" x="1102.3" y="707.2"/><use href="#st" class="s5" x="1125.6" y="707.2"/><use href="#st" class="s6" x="1149.6" y="707.2"/>
<text class="i" x="1085.6" y="724.2">M75</text>
<circle cx="1102.3" cy="722.4" r="8" fill="#5486bb"/><circle cx="1125.6" cy="722.4" r="8" fill="#a81c22"/><circle cx="1149.6" cy="722.4" r="8" fill="#c4d6ea"/></g>

<g id="b-tgl4-v"><text class="r" transform="translate(796.2,767.5) rotate(-90)">TGL4</text>
<use href="#st" class="s6" x="803.5" y="743.2"/><use href="#st" class="s5" x="803.5" y="767.1"/><use href="#st" class="s4" x="803.5" y="790.8"/>
<g class="hm"><rect x="811.1" y="732.2" width="15.7" height="22.2" fill="#f08232"/><rect x="811.1" y="756.1" width="15.7" height="22.2" fill="#c4d8ec"/><rect x="811.1" y="779.8" width="15.7" height="22.2" fill="#8fb4d9"/></g></g>

<g id="b-ept1"><text class="g" x="947.8" y="776">EPT1</text>
<use href="#st" class="s4" x="885.5" y="784.9"/><use href="#st" class="s5" x="909.5" y="784.9"/><use href="#st" class="s6" x="933.5" y="784.9"/><use href="#st" class="s4" x="962.1" y="784.9"/><use href="#st" class="s5" x="986.1" y="784.9"/><use href="#st" class="s6" x="1010.1" y="784.9"/>
<g class="hm">
<rect x="874.8" y="792.9" width="22.2" height="15.5" fill="#84aed6"/><rect x="874.8" y="808.4" width="22.2" height="15.5" fill="#b4cde7"/><rect x="874.8" y="823.9" width="22.2" height="15.5" fill="#aac7e4"/><rect x="874.8" y="839.4" width="22.2" height="15.5" fill="#5792c8"/>
<rect x="898.5" y="792.9" width="22.2" height="15.5" fill="#c4d8ec"/><rect x="898.5" y="808.4" width="22.2" height="15.5" fill="#8fb4d9"/><rect x="898.5" y="823.9" width="22.2" height="15.5" fill="#8fb4d9"/><rect x="898.5" y="839.4" width="22.2" height="15.5" fill="#fdf5ee"/>
<rect x="922.2" y="792.9" width="22.2" height="15.5" fill="#f08232"/><rect x="922.2" y="808.4" width="22.2" height="15.5" fill="#f08232"/><rect x="922.2" y="823.9" width="22.2" height="15.5" fill="#f08232"/><rect x="922.2" y="839.4" width="22.2" height="15.5" fill="#f4a06a"/>
<rect x="951.2" y="792.9" width="22.2" height="15.5" fill="#4584c1"/><rect x="951.2" y="808.4" width="22.2" height="15.5" fill="#5f95c9"/><rect x="951.2" y="823.9" width="22.2" height="15.5" fill="#4a87c3"/><rect x="951.2" y="839.4" width="22.2" height="15.5" fill="#8fb4d9"/><rect x="951.2" y="854.9" width="22.2" height="15.5" fill="#8fb4d9"/>
<rect x="974.8" y="792.9" width="22.2" height="15.5" fill="#f9d2b4"/><rect x="974.8" y="808.4" width="22.2" height="15.5" fill="#f5f9fd"/><rect x="974.8" y="823.9" width="22.2" height="15.5" fill="#fbe2d0"/><rect x="974.8" y="839.4" width="22.2" height="15.5" fill="#f7b283"/><rect x="974.8" y="854.9" width="22.2" height="15.5" fill="#f7b283"/>
<rect x="998.5" y="792.9" width="22.2" height="15.5" fill="#f4a672"/><rect x="998.5" y="808.4" width="22.2" height="15.5" fill="#f08c46"/><rect x="998.5" y="823.9" width="22.2" height="15.5" fill="#f4a06a"/>
</g></g>

<g id="b-tgl4-tl"><text class="g" x="517.5" y="695.6">TGL4</text>
<use href="#st" class="s4" x="493.3" y="704"/><use href="#st" class="s5" x="516.7" y="704"/><use href="#st" class="s6" x="541.1" y="704"/>
<g class="hm"><rect x="482.7" y="712" width="22.2" height="15.3" fill="#8fb4d9"/><rect x="506.3" y="712" width="22.2" height="15.3" fill="#c4d8ec"/><rect x="530.1" y="712" width="22.2" height="15.3" fill="#f08232"/></g></g>

<g id="b-lysopc1"><text class="m" x="369.5" y="714.6">LysoPC (<tspan font-style="italic">sn</tspan>-1)</text>
<use href="#st" class="s4" x="342.7" y="724.1"/><use href="#st" class="s5" x="366.7" y="724.1"/><use href="#st" class="s6" x="390" y="724.1"/>
<text class="i" x="323.3" y="742.6">M57</text><text class="i" x="323.3" y="758.5">M72</text>
<circle cx="342.7" cy="738.3" r="8" fill="#6c98c6"/><circle cx="366.7" cy="738.3" r="8" fill="#c96a70"/>
<circle cx="342.7" cy="754.2" r="8" fill="#8fb4d9"/><circle cx="366.7" cy="754.2" r="8" fill="#a81c22"/><circle cx="390" cy="754.2" r="8" fill="#8fb4d9"/></g>

<g id="b-lpcat-u"><text class="g" x="443" y="776">LPCAT1_2</text>
<use href="#st" class="s4" x="380" y="784.9"/><use href="#st" class="s5" x="404" y="784.9"/><use href="#st" class="s6" x="427.7" y="784.9"/><use href="#st" class="s4" x="457.7" y="784.9"/><use href="#st" class="s5" x="481.7" y="784.9"/><use href="#st" class="s6" x="505.7" y="784.9"/>
<g class="hm">
<rect x="369.3" y="792.9" width="22.2" height="15.5" fill="#4d8bc6"/><rect x="369.3" y="808.4" width="22.2" height="15.5" fill="#4d8bc6"/><rect x="369.3" y="823.9" width="22.2" height="15.5" fill="#4584c1"/><rect x="369.3" y="839.4" width="22.2" height="15.5" fill="#5590c8"/>
<rect x="393" y="792.9" width="22.2" height="15.5" fill="#f4a06a"/><rect x="393" y="808.4" width="22.2" height="15.5" fill="#f29050"/><rect x="393" y="823.9" width="22.2" height="15.5" fill="#f7b283"/><rect x="393" y="839.4" width="22.2" height="15.5" fill="#f29050"/>
<rect x="417" y="792.9" width="22.2" height="15.5" fill="#fce9dd"/><rect x="417" y="808.4" width="22.2" height="15.5" fill="#fef9f5"/><rect x="417" y="823.9" width="22.2" height="15.5" fill="#f9cba8"/><rect x="417" y="839.4" width="22.2" height="15.5" fill="#fef7f1"/>
<rect x="447" y="792.9" width="22.2" height="15.5" fill="#5f95c9"/><rect x="447" y="808.4" width="22.2" height="15.5" fill="#4584c1"/><rect x="447" y="823.9" width="22.2" height="15.5" fill="#4584c1"/><rect x="447" y="839.4" width="22.2" height="15.5" fill="#4584c1"/><rect x="447" y="854.9" width="22.2" height="15.5" fill="#4584c1"/>
<rect x="470.7" y="792.9" width="22.2" height="15.5" fill="#f08232"/><rect x="470.7" y="808.4" width="22.2" height="15.5" fill="#f4a06a"/><rect x="470.7" y="823.9" width="22.2" height="15.5" fill="#f7b283"/><rect x="470.7" y="839.4" width="22.2" height="15.5" fill="#f4a06a"/><rect x="470.7" y="854.9" width="22.2" height="15.5" fill="#f7b283"/>
<rect x="494.7" y="792.9" width="22.2" height="15.5" fill="#ecf2f9"/><rect x="494.7" y="808.4" width="22.2" height="15.5" fill="#fce9dd"/><rect x="494.7" y="823.9" width="22.2" height="15.5" fill="#f8c39d"/><rect x="494.7" y="839.4" width="22.2" height="15.5" fill="#fce6d6"/><rect x="494.7" y="854.9" width="22.2" height="15.5" fill="#f9cba8"/>
</g></g>

<g id="b-lpt1-pc"><text class="g" x="557.8" y="817.3">LPT1</text>
<use href="#st" class="s4" x="533.5" y="826.8"/><use href="#st" class="s5" x="557.1" y="826.8"/><use href="#st" class="s6" x="581.1" y="826.8"/>
<g class="hm"><rect x="522" y="834.4" width="22.2" height="15.3" fill="#4d8bc6"/><rect x="546" y="834.4" width="22.2" height="15.3" fill="#f4a06a"/><rect x="570" y="834.4" width="22.2" height="15.3" fill="#fde8da"/></g></g>

<g id="b-lypla2-l"><text class="g" x="265" y="795">LYPLA2</text>
<use href="#st" class="s4" x="241" y="804"/><use href="#st" class="s5" x="265" y="804"/><use href="#st" class="s6" x="288.7" y="804"/>
<g class="hm">
<rect x="230" y="812" width="22.2" height="15.5" fill="#f7b283"/><rect x="230" y="827.5" width="22.2" height="15.5" fill="#f4a06a"/><rect x="230" y="874" width="22.2" height="15.5" fill="#f7b283"/>
<rect x="254" y="812" width="22.2" height="15.5" fill="#ffffff"/><rect x="254" y="827.5" width="22.2" height="15.5" fill="#4d8bc6"/><rect x="254" y="843" width="22.2" height="15.5" fill="#f7b283"/><rect x="254" y="858.5" width="22.2" height="15.5" fill="#f7b283"/><rect x="254" y="874" width="22.2" height="15.5" fill="#8fb4d9"/>
<rect x="277.7" y="812" width="22.2" height="15.5" fill="#8fb4d9"/><rect x="277.7" y="827.5" width="22.2" height="15.5" fill="#fce8da"/><rect x="277.7" y="843" width="22.2" height="15.5" fill="#8fb4d9"/><rect x="277.7" y="858.5" width="22.2" height="15.5" fill="#8fb4d9"/>
</g></g>

<g id="b-pc"><text class="m" x="628.7" y="870.2">PC</text>
<use href="#st" class="s4" x="616.1" y="878.7"/><use href="#st" class="s5" x="639.5" y="878.7"/>
<text class="i" x="596.8" y="897.2">M89</text>
<circle cx="616.1" cy="892.9" r="8" fill="#c96a70"/><circle cx="639.5" cy="892.9" r="8" fill="#6c98c6"/></g>

<g id="b-plc-l"><text class="g" x="751.5" y="905.1">plc</text>
<use href="#st" class="s4" x="727.8" y="914.7"/><use href="#st" class="s5" x="751.1" y="914.7"/><use href="#st" class="s6" x="775.1" y="914.7"/>
<g class="hm"><rect x="716.5" y="922.5" width="22.2" height="15.5" fill="#6fa0d0"/><rect x="740.2" y="922.5" width="22.2" height="15.5" fill="#f0883a"/><rect x="763.8" y="922.5" width="22.2" height="15.5" fill="#dde8f3"/></g></g>

<g id="b-plc-r"><text class="g" x="944.8" y="907.3">plc</text>
<use href="#st" class="s4" x="921.1" y="916.8"/><use href="#st" class="s5" x="944.5" y="916.8"/><use href="#st" class="s6" x="968.5" y="916.8"/>
<g class="hm"><rect x="909.5" y="924.6" width="22.2" height="15.5" fill="#6fa0d0"/><rect x="933.2" y="924.6" width="22.2" height="15.5" fill="#f0883a"/><rect x="956.8" y="924.6" width="22.2" height="15.5" fill="#dde8f3"/></g></g>

<g id="b-dad1-l"><text class="g" x="482.5" y="910.4">DAD1</text>
<use href="#st" class="s4" x="420.7" y="920"/><use href="#st" class="s5" x="444.3" y="920"/><use href="#st" class="s6" x="468.3" y="920"/><use href="#st" class="s4" x="496.7" y="920"/><use href="#st" class="s5" x="520" y="920"/><use href="#st" class="s6" x="544.5" y="920"/>
<g class="hm">
<rect x="409.3" y="928.2" width="22.2" height="15.5" fill="#94b7da"/><rect x="409.3" y="943.7" width="22.2" height="15.5" fill="#98badb"/><rect x="409.3" y="959.2" width="22.2" height="15.5" fill="#a0bfdf"/><rect x="409.3" y="974.7" width="22.2" height="15.5" fill="#a0bfdf"/><rect x="409.3" y="990.2" width="22.2" height="15.5" fill="#c0d4ea"/><rect x="409.3" y="1005.7" width="22.2" height="15.5" fill="#9fbfdf"/><rect x="409.3" y="1021.2" width="22.2" height="15.5" fill="#97b9dc"/>
<rect x="433.3" y="928.2" width="22.2" height="15.5" fill="#b3cce6"/><rect x="433.3" y="943.7" width="22.2" height="15.5" fill="#a9c6e3"/><rect x="433.3" y="959.2" width="22.2" height="15.5" fill="#a9c6e3"/><rect x="433.3" y="974.7" width="22.2" height="15.5" fill="#a9c6e3"/><rect x="433.3" y="990.2" width="22.2" height="15.5" fill="#87b0d7"/><rect x="433.3" y="1005.7" width="22.2" height="15.5" fill="#a9c6e3"/><rect x="433.3" y="1021.2" width="22.2" height="15.5" fill="#b3cce6"/>
<rect x="457.3" y="928.2" width="22.2" height="15.5" fill="#f08232"/><rect x="457.3" y="943.7" width="22.2" height="15.5" fill="#f08232"/><rect x="457.3" y="959.2" width="22.2" height="15.5" fill="#f08232"/><rect x="457.3" y="974.7" width="22.2" height="15.5" fill="#f08232"/><rect x="457.3" y="990.2" width="22.2" height="15.5" fill="#f08232"/><rect x="457.3" y="1005.7" width="22.2" height="15.5" fill="#f08232"/><rect x="457.3" y="1021.2" width="22.2" height="15.5" fill="#f08232"/>
<rect x="486" y="928.2" width="22.2" height="15.5" fill="#6fa0d0"/><rect x="486" y="943.7" width="22.2" height="15.5" fill="#7eaad4"/><rect x="486" y="959.2" width="22.2" height="15.5" fill="#8fb4d9"/><rect x="486" y="974.7" width="22.2" height="15.5" fill="#8fb4d9"/><rect x="486" y="990.2" width="22.2" height="15.5" fill="#8fb4d9"/><rect x="486" y="1005.7" width="22.2" height="15.5" fill="#8fb4d9"/><rect x="486" y="1021.2" width="22.2" height="15.5" fill="#8fb4d9"/>
<rect x="509.7" y="928.2" width="22.2" height="15.5" fill="#dde8f4"/><rect x="509.7" y="943.7" width="22.2" height="15.5" fill="#c8d9ec"/>
<rect x="533.5" y="928.2" width="22.2" height="15.5" fill="#f08232"/><rect x="533.5" y="943.7" width="22.2" height="15.5" fill="#f08232"/><rect x="533.5" y="959.2" width="22.2" height="15.5" fill="#f7b283"/><rect x="533.5" y="974.7" width="22.2" height="15.5" fill="#f7b283"/><rect x="533.5" y="990.2" width="22.2" height="15.5" fill="#f7b283"/><rect x="533.5" y="1005.7" width="22.2" height="15.5" fill="#f7b283"/><rect x="533.5" y="1021.2" width="22.2" height="15.5" fill="#f7b283"/>
</g></g>

<g id="b-lcat3-l"><text class="g" x="582.5" y="1004.3">LCAT3</text>
<use href="#st" class="s4" x="570.1" y="1013.2"/><use href="#st" class="s5" x="593.8" y="1013.2"/>
<g class="hm"><rect x="559.5" y="1021.2" width="22.2" height="15.5" fill="#f7b283"/><rect x="583.1" y="1021.2" width="22.2" height="15.5" fill="#8fb4d9"/></g></g>

<g id="b-lysopc2"><text class="m" x="349.5" y="1020.1">LysoPC (<tspan font-style="italic">sn</tspan>-2)</text>
<use href="#st" class="s4" x="325.7" y="1029.2"/><use href="#st" class="s5" x="349" y="1029.2"/><use href="#st" class="s6" x="373.3" y="1029.2"/>
<text class="i" x="306" y="1048.4">M77</text><text class="i" x="306" y="1063.6">M60</text>
<circle cx="325.7" cy="1044.1" r="8" fill="#1f5fa5"/><circle cx="349" cy="1044.1" r="8" fill="#c0545a"/><circle cx="373.3" cy="1044.1" r="8" fill="#ecd8da"/>
<circle cx="325.7" cy="1059.3" r="8" fill="#5589bd"/><circle cx="349" cy="1059.3" r="8" fill="#a81c22"/><circle cx="373.3" cy="1059.3" r="8" fill="#c4d6ea"/></g>

<g id="b-lysopg"><text class="m" x="582.8" y="1081.5">LysoPG (<tspan font-style="italic">sn</tspan>-1)</text>
<use href="#st" class="s4" x="571.1" y="1090.6"/><use href="#st" class="s5" x="594.5" y="1090.6"/>
<text class="i" x="551.8" y="1109.5">M70</text>
<circle cx="571.1" cy="1105.2" r="8" fill="#6c98c6"/><circle cx="594.5" cy="1105.2" r="8" fill="#c96a70"/></g>

<g id="b-lpcat-l"><text class="g" x="717.8" y="998">LPCAT1_2</text>
<use href="#st" class="s4" x="655.5" y="1005.3"/><use href="#st" class="s5" x="679.5" y="1005.3"/><use href="#st" class="s6" x="703.2" y="1005.3"/><use href="#st" class="s4" x="733.2" y="1005.3"/><use href="#st" class="s5" x="757.2" y="1005.3"/><use href="#st" class="s6" x="780.8" y="1005.3"/>
<g class="hm">
<rect x="644.8" y="1013.4" width="22.2" height="15.5" fill="#5590c8"/><rect x="644.8" y="1028.9" width="22.2" height="15.5" fill="#5590c8"/><rect x="644.8" y="1044.4" width="22.2" height="15.5" fill="#4584c1"/><rect x="644.8" y="1059.9" width="22.2" height="15.5" fill="#5590c8"/>
<rect x="668.5" y="1013.4" width="22.2" height="15.5" fill="#f4a06a"/><rect x="668.5" y="1028.9" width="22.2" height="15.5" fill="#f29050"/><rect x="668.5" y="1044.4" width="22.2" height="15.5" fill="#f7b283"/><rect x="668.5" y="1059.9" width="22.2" height="15.5" fill="#f29050"/>
<rect x="692.5" y="1013.4" width="22.2" height="15.5" fill="#fce9dd"/><rect x="692.5" y="1028.9" width="22.2" height="15.5" fill="#fef9f5"/><rect x="692.5" y="1044.4" width="22.2" height="15.5" fill="#f9cba8"/><rect x="692.5" y="1059.9" width="22.2" height="15.5" fill="#fef7f1"/>
<rect x="722.1" y="1013.4" width="22.2" height="15.5" fill="#6a9ccd"/><rect x="722.1" y="1028.9" width="22.2" height="15.5" fill="#4d8bc6"/><rect x="722.1" y="1044.4" width="22.2" height="15.5" fill="#4584c1"/><rect x="722.1" y="1059.9" width="22.2" height="15.5" fill="#4584c1"/><rect x="722.1" y="1075.4" width="22.2" height="15.5" fill="#4584c1"/>
<rect x="746.1" y="1013.4" width="22.2" height="15.5" fill="#f08a3e"/><rect x="746.1" y="1028.9" width="22.2" height="15.5" fill="#f4a06a"/><rect x="746.1" y="1044.4" width="22.2" height="15.5" fill="#f7b283"/><rect x="746.1" y="1059.9" width="22.2" height="15.5" fill="#f4a06a"/><rect x="746.1" y="1075.4" width="22.2" height="15.5" fill="#f7b283"/>
<rect x="769.8" y="1013.4" width="22.2" height="15.5" fill="#eef3f9"/><rect x="769.8" y="1028.9" width="22.2" height="15.5" fill="#fce9dd"/><rect x="769.8" y="1044.4" width="22.2" height="15.5" fill="#f8c39d"/><rect x="769.8" y="1059.9" width="22.2" height="15.5" fill="#fce6d6"/><rect x="769.8" y="1075.4" width="22.2" height="15.5" fill="#f9cba8"/>
</g></g>

<g id="b-lpt1-u"><text class="g" x="834.5" y="1004.3">LPT1</text>
<use href="#st" class="s4" x="811.1" y="1013.2"/><use href="#st" class="s5" x="835.1" y="1013.2"/><use href="#st" class="s6" x="858.8" y="1013.2"/>
<g class="hm"><rect x="800.1" y="1021.2" width="22.2" height="15.5" fill="#4d8bc6"/><rect x="823.8" y="1021.2" width="22.2" height="15.5" fill="#f4a06a"/><rect x="847.5" y="1021.2" width="22.2" height="15.5" fill="#fde8da"/></g></g>

<g id="b-lclat1-u"><text class="g" x="835" y="1051.9">LCLAT1</text>
<use href="#st" class="s4" x="811.1" y="1060.4"/><use href="#st" class="s5" x="835.1" y="1060.4"/><use href="#st" class="s6" x="858.8" y="1060.4"/>
<g class="hm"><rect x="800.1" y="1068.8" width="22.2" height="15.5" fill="#4584c1"/><rect x="823.8" y="1068.8" width="22.2" height="15.5" fill="#f4a672"/><rect x="847.5" y="1068.8" width="22.2" height="15.5" fill="#f9d3b5"/></g></g>

<g id="b-lclat1-l"><text class="g" x="691.3" y="1166.2">LCLAT1</text>
<use href="#st" class="s4" x="667.8" y="1174.7"/><use href="#st" class="s5" x="691.8" y="1174.7"/><use href="#st" class="s6" x="715.5" y="1174.7"/>
<g class="hm"><rect x="656.5" y="1182.7" width="22.2" height="15.7" fill="#4584c1"/><rect x="680.1" y="1182.7" width="22.2" height="15.7" fill="#f7b283"/><rect x="704.1" y="1182.7" width="22.2" height="15.7" fill="#f9d3b5"/></g></g>

<g id="b-tgl4-l"><text class="g" x="767.8" y="1166.2">TGL4</text>
<use href="#st" class="s4" x="744.5" y="1174.7"/><use href="#st" class="s5" x="768.1" y="1174.7"/><use href="#st" class="s6" x="791.8" y="1174.7"/>
<g class="hm"><rect x="733.1" y="1182.7" width="22.2" height="15.7" fill="#8fb4d9"/><rect x="756.8" y="1182.7" width="22.2" height="15.7" fill="#c0d4ea"/><rect x="780.8" y="1182.7" width="22.2" height="15.7" fill="#f08232"/></g></g>

<g id="b-lpt1-l"><text class="g" x="844.5" y="1166.2">LPT1</text>
<use href="#st" class="s4" x="821.1" y="1174.7"/><use href="#st" class="s5" x="844.8" y="1174.7"/><use href="#st" class="s6" x="868.5" y="1174.7"/>
<g class="hm"><rect x="809.5" y="1182.7" width="22.2" height="15.7" fill="#4d8bc6"/><rect x="833.1" y="1182.7" width="22.2" height="15.7" fill="#f4a06a"/><rect x="857.1" y="1182.7" width="22.2" height="15.7" fill="#fde3d3"/></g></g>

<g id="b-lysopa"><text class="m" x="597.8" y="1186.3">LysoPA (<tspan font-style="italic">sn</tspan>-1)</text>
<use href="#st" class="s4" x="574.5" y="1195.9"/><use href="#st" class="s5" x="598.1" y="1195.9"/><use href="#st" class="s6" x="621.8" y="1195.9"/>
<text class="i" x="555.5" y="1215">M66</text><text class="i" x="555.5" y="1230.4">M74</text>
<circle cx="574.5" cy="1210.7" r="8" fill="#6c98c6"/><circle cx="598.1" cy="1210.7" r="8" fill="#a81c22"/><circle cx="621.8" cy="1210.7" r="8" fill="#a0bfdf"/>
<circle cx="574.5" cy="1226.1" r="8" fill="#6c98c6"/><circle cx="598.1" cy="1226.1" r="8" fill="#a81c22"/><circle cx="621.8" cy="1226.1" r="8" fill="#b4cde7"/></g>

<g id="b-agpat"><text class="g" x="725" y="1223.4">AGPAT3_4</text>
<use href="#st" class="s4" x="701.1" y="1232.5"/><use href="#st" class="s5" x="724.5" y="1232.5"/><use href="#st" class="s6" x="748.5" y="1232.5"/>
<g class="hm"><rect x="690.1" y="1239.9" width="22.2" height="15.5" fill="#5792c8"/><rect x="713.8" y="1239.9" width="22.2" height="15.5" fill="#f4a06a"/><rect x="737.8" y="1239.9" width="22.2" height="15.5" fill="#fefaf6"/></g></g>

<g id="b-plsc"><text class="g" x="809" y="1223.4">plsC</text>
<use href="#st" class="s4" x="796.8" y="1232.5"/><use href="#st" class="s5" x="820.5" y="1232.5"/>
<g class="hm"><rect x="786.1" y="1239.9" width="22.2" height="15.5" fill="#f7b283"/><rect x="809.8" y="1239.9" width="22.2" height="15.5" fill="#8fb4d9"/></g></g>

<g id="b-ats1"><text class="g" x="404.3" y="1157.8">ATS1</text>
<use href="#st" class="s4" x="392.3" y="1166.2"/><use href="#st" class="s5" x="416" y="1166.2"/>
<g class="hm"><rect x="381" y="1173.6" width="22.2" height="15.7" fill="#8fb4d9"/><rect x="404.7" y="1173.6" width="22.2" height="15.7" fill="#f7b283"/></g></g>

<g id="b-gpat34"><text class="g" x="479.3" y="1131.3">GPAT3_4</text>
<use href="#st" class="s4" x="455.3" y="1141.9"/><use href="#st" class="s5" x="479" y="1141.9"/><use href="#st" class="s6" x="502.7" y="1141.9"/>
<g class="hm"><rect x="444.3" y="1149.7" width="22.2" height="15.5" fill="#f08a3e"/><rect x="444.3" y="1165.2" width="22.2" height="15.5" fill="#f7b283"/><rect x="444.3" y="1180.7" width="22.2" height="15.5" fill="#f7b283"/>
<rect x="468" y="1149.7" width="22.2" height="15.5" fill="#6a9ccd"/><rect x="468" y="1165.2" width="22.2" height="15.5" fill="#8fb4d9"/><rect x="468" y="1180.7" width="22.2" height="15.5" fill="#8fb4d9"/>
<rect x="492" y="1149.7" width="22.2" height="15.5" fill="#eaf1f9"/></g></g>

<g id="b-gpat"><text class="g" x="452.2" y="1224">GPAT</text>
<use href="#st" class="s4" x="386.7" y="1232.9"/><use href="#st" class="s5" x="410.7" y="1232.9"/><use href="#st" class="s6" x="434.3" y="1232.9"/><use href="#st" class="s4" x="469.3" y="1232.9"/><use href="#st" class="s5" x="492.7" y="1232.9"/><use href="#st" class="s6" x="516.7" y="1232.9"/>
<g class="hm">
<rect x="376" y="1241.2" width="22.2" height="15.5" fill="#f7b283"/><rect x="376" y="1256.7" width="22.2" height="15.5" fill="#f7b283"/><rect x="376" y="1272.2" width="22.2" height="15.5" fill="#f08232"/><rect x="376" y="1287.7" width="22.2" height="15.5" fill="#f08232"/>
<rect x="400" y="1241.2" width="22.2" height="15.5" fill="#8fb4d9"/><rect x="400" y="1256.7" width="22.2" height="15.5" fill="#8fb4d9"/><rect x="400" y="1272.2" width="22.2" height="15.5" fill="#8fb4d9"/><rect x="400" y="1287.7" width="22.2" height="15.5" fill="#8fb4d9"/>
<rect x="423.7" y="1272.2" width="22.2" height="15.5" fill="#b4cde7"/><rect x="423.7" y="1287.7" width="22.2" height="15.5" fill="#b4cde7"/>
<rect x="458.3" y="1241.2" width="22.2" height="15.5" fill="#f08232"/><rect x="458.3" y="1256.7" width="22.2" height="15.5" fill="#f08232"/><rect x="458.3" y="1272.2" width="22.2" height="15.5" fill="#f7b283"/><rect x="458.3" y="1287.7" width="22.2" height="15.5" fill="#f7b283"/><rect x="458.3" y="1303.2" width="22.2" height="15.5" fill="#f7b283"/>
<rect x="482" y="1241.2" width="22.2" height="15.5" fill="#8fb4d9"/><rect x="482" y="1256.7" width="22.2" height="15.5" fill="#8fb4d9"/><rect x="482" y="1272.2" width="22.2" height="15.5" fill="#8fb4d9"/><rect x="482" y="1287.7" width="22.2" height="15.5" fill="#8fb4d9"/><rect x="482" y="1303.2" width="22.2" height="15.5" fill="#8fb4d9"/>
<rect x="506" y="1241.2" width="22.2" height="15.5" fill="#b4cde7"/><rect x="506" y="1256.7" width="22.2" height="15.5" fill="#b4cde7"/>
</g></g>

<g id="b-pe"><text class="m k" x="1101.5" y="869.1">PE</text>
<use href="#st" class="s4" x="1088.9" y="878.7"/><use href="#st" class="s5" x="1112.3" y="878.7"/>
<text class="i" x="1072.3" y="897.8">M88</text>
<circle cx="1088.9" cy="893.5" r="8" fill="#6c98c6"/><circle cx="1112.3" cy="893.5" r="8" fill="#c96a70"/></g>

<g id="b-tgl4-r"><text class="g" x="1173.3" y="748.5">TGL4</text>
<use href="#st" class="s4" x="1149.6" y="758"/><use href="#st" class="s5" x="1173.3" y="758"/><use href="#st" class="s6" x="1197.3" y="758"/>
<g class="hm"><rect x="1138.3" y="766" width="22.2" height="15.3" fill="#8fb4d9"/><rect x="1162.3" y="766" width="22.2" height="15.3" fill="#c0d4ea"/><rect x="1186" y="766" width="22.2" height="15.3" fill="#f08232"/></g></g>

<g id="b-lysope1"><text class="m" x="1355.3" y="764.4">LysoPE (<tspan font-style="italic">sn</tspan>-1)</text>
<use href="#st" class="s4" x="1331.6" y="773.9"/><use href="#st" class="s5" x="1355" y="773.9"/><use href="#st" class="s6" x="1379" y="773.9"/>
<text class="i" x="1312.3" y="793">M61</text>
<circle cx="1331.6" cy="790.2" r="8" fill="#6c98c6"/><circle cx="1355" cy="790.2" r="8" fill="#a81c22"/><circle cx="1379" cy="790.2" r="8" fill="#a7c1de"/></g>

<g id="b-lpt1-r"><text class="g" x="1289" y="839.5">LPT1</text>
<use href="#st" class="s4" x="1265" y="849"/><use href="#st" class="s5" x="1289" y="849"/><use href="#st" class="s6" x="1313" y="849"/>
<g class="hm"><rect x="1254.3" y="856.4" width="22.2" height="15.5" fill="#4d8bc6"/><rect x="1277.9" y="856.4" width="22.2" height="15.5" fill="#f4a06a"/><rect x="1301.9" y="856.4" width="22.2" height="15.5" fill="#fde8da"/></g></g>

<g id="b-lypla2-r"><text class="g" x="1437" y="799.3">LYPLA2</text>
<use href="#st" class="s4" x="1412.9" y="808.4"/><use href="#st" class="s5" x="1436.6" y="808.4"/><use href="#st" class="s6" x="1460.6" y="808.4"/>
<g class="hm">
<rect x="1401.9" y="815.8" width="22.2" height="15.5" fill="#f7b283"/><rect x="1401.9" y="831.3" width="22.2" height="15.5" fill="#f4a06a"/><rect x="1401.9" y="877.8" width="22.2" height="15.5" fill="#f7b283"/>
<rect x="1425.6" y="815.8" width="22.2" height="15.5" fill="#ffffff"/><rect x="1425.6" y="831.3" width="22.2" height="15.5" fill="#4d8bc6"/><rect x="1425.6" y="846.8" width="22.2" height="15.5" fill="#f7b283"/><rect x="1425.6" y="862.3" width="22.2" height="15.5" fill="#f7b283"/><rect x="1425.6" y="877.8" width="22.2" height="15.5" fill="#8fb4d9"/>
<rect x="1449.6" y="815.8" width="22.2" height="15.5" fill="#8fb4d9"/><rect x="1449.6" y="831.3" width="22.2" height="15.5" fill="#fce8da"/><rect x="1449.6" y="846.8" width="22.2" height="15.5" fill="#8fb4d9"/><rect x="1449.6" y="862.3" width="22.2" height="15.5" fill="#8fb4d9"/>
</g></g>

<g id="b-ptdss2"><text class="g" x="1019.8" y="1057.2">PTDSS2</text>
<use href="#st" class="s4" x="996.1" y="1066.7"/><use href="#st" class="s5" x="1019.5" y="1066.7"/><use href="#st" class="s6" x="1042.8" y="1066.7"/>
<g class="hm">
<rect x="985.5" y="1075.2" width="22.2" height="15.5" fill="#6a9ccd"/><rect x="985.5" y="1090.7" width="22.2" height="15.5" fill="#5590c8"/><rect x="985.5" y="1106.2" width="22.2" height="15.5" fill="#f7b283"/><rect x="985.5" y="1121.7" width="22.2" height="15.5" fill="#8fb4d9"/>
<rect x="1009.1" y="1075.2" width="22.2" height="15.5" fill="#f29050"/><rect x="1009.1" y="1090.7" width="22.2" height="15.5" fill="#f4a06a"/><rect x="1009.1" y="1106.2" width="22.2" height="15.5" fill="#ffffff"/><rect x="1009.1" y="1121.7" width="22.2" height="15.5" fill="#f7b283"/>
<rect x="1032.8" y="1075.2" width="22.2" height="15.5" fill="#f3f7fb"/><rect x="1032.8" y="1090.7" width="22.2" height="15.5" fill="#fdf1e8"/><rect x="1032.8" y="1106.2" width="22.2" height="15.5" fill="#8fb4d9"/>
</g></g>

<g id="b-psd"><text class="g" x="1020" y="1172.6">psd</text>
<use href="#st" class="s4" x="996.1" y="1182.5"/><use href="#st" class="s5" x="1019.5" y="1182.5"/><use href="#st" class="s6" x="1042.8" y="1182.5"/>
<g class="hm"><rect x="985.5" y="1190.6" width="22.2" height="15.5" fill="#4a87c3"/><rect x="985.5" y="1206.1" width="22.2" height="15.5" fill="#4a87c3"/>
<rect x="1009.1" y="1190.6" width="22.2" height="15.5" fill="#f4a672"/><rect x="1009.1" y="1206.1" width="22.2" height="15.5" fill="#f29050"/>
<rect x="1032.8" y="1190.6" width="22.2" height="15.5" fill="#fbd8c0"/><rect x="1032.8" y="1206.1" width="22.2" height="15.5" fill="#fef7f1"/></g></g>

<g id="b-dad1-r"><text class="g" x="1191.8" y="1057.2">DAD1</text>
<use href="#st" class="s4" x="1129.9" y="1066.7"/><use href="#st" class="s5" x="1153.6" y="1066.7"/><use href="#st" class="s6" x="1177.6" y="1066.7"/><use href="#st" class="s4" x="1206.3" y="1066.7"/><use href="#st" class="s5" x="1229.9" y="1066.7"/><use href="#st" class="s6" x="1253.9" y="1066.7"/>
<g class="hm">
<rect x="1118.9" y="1073.7" width="22.2" height="15.5" fill="#94b7da"/><rect x="1118.9" y="1089.2" width="22.2" height="15.5" fill="#98badb"/><rect x="1118.9" y="1104.7" width="22.2" height="15.5" fill="#a0bfdf"/><rect x="1118.9" y="1120.2" width="22.2" height="15.5" fill="#a0bfdf"/><rect x="1118.9" y="1135.7" width="22.2" height="15.5" fill="#c0d4ea"/><rect x="1118.9" y="1151.2" width="22.2" height="15.5" fill="#9fbfdf"/><rect x="1118.9" y="1166.7" width="22.2" height="15.5" fill="#97b9dc"/>
<rect x="1142.6" y="1073.7" width="22.2" height="15.5" fill="#b3cce6"/><rect x="1142.6" y="1089.2" width="22.2" height="15.5" fill="#a9c6e3"/><rect x="1142.6" y="1104.7" width="22.2" height="15.5" fill="#a9c6e3"/><rect x="1142.6" y="1120.2" width="22.2" height="15.5" fill="#a9c6e3"/><rect x="1142.6" y="1135.7" width="22.2" height="15.5" fill="#87b0d7"/><rect x="1142.6" y="1151.2" width="22.2" height="15.5" fill="#a9c6e3"/><rect x="1142.6" y="1166.7" width="22.2" height="15.5" fill="#b3cce6"/>
<rect x="1166.6" y="1073.7" width="22.2" height="15.5" fill="#f08232"/><rect x="1166.6" y="1089.2" width="22.2" height="15.5" fill="#f08232"/><rect x="1166.6" y="1104.7" width="22.2" height="15.5" fill="#f08232"/><rect x="1166.6" y="1120.2" width="22.2" height="15.5" fill="#f08232"/><rect x="1166.6" y="1135.7" width="22.2" height="15.5" fill="#f08232"/><rect x="1166.6" y="1151.2" width="22.2" height="15.5" fill="#f08232"/><rect x="1166.6" y="1166.7" width="22.2" height="15.5" fill="#f08232"/>
<rect x="1195.3" y="1073.7" width="22.2" height="15.5" fill="#6fa0d0"/><rect x="1195.3" y="1089.2" width="22.2" height="15.5" fill="#7eaad4"/><rect x="1195.3" y="1104.7" width="22.2" height="15.5" fill="#8fb4d9"/><rect x="1195.3" y="1120.2" width="22.2" height="15.5" fill="#8fb4d9"/><rect x="1195.3" y="1135.7" width="22.2" height="15.5" fill="#8fb4d9"/><rect x="1195.3" y="1151.2" width="22.2" height="15.5" fill="#8fb4d9"/><rect x="1195.3" y="1166.7" width="22.2" height="15.5" fill="#8fb4d9"/>
<rect x="1218.9" y="1073.7" width="22.2" height="15.5" fill="#dde8f4"/><rect x="1218.9" y="1089.2" width="22.2" height="15.5" fill="#c8d9ec"/>
<rect x="1242.9" y="1073.7" width="22.2" height="15.5" fill="#f08232"/><rect x="1242.9" y="1089.2" width="22.2" height="15.5" fill="#f08232"/><rect x="1242.9" y="1104.7" width="22.2" height="15.5" fill="#f7b283"/><rect x="1242.9" y="1120.2" width="22.2" height="15.5" fill="#f7b283"/><rect x="1242.9" y="1135.7" width="22.2" height="15.5" fill="#f7b283"/><rect x="1242.9" y="1151.2" width="22.2" height="15.5" fill="#f7b283"/><rect x="1242.9" y="1166.7" width="22.2" height="15.5" fill="#f7b283"/>
</g></g>

<g id="b-lcat3-r"><text class="g" x="1192" y="1005.3">LCAT3</text>
<use href="#st" class="s4" x="1179.6" y="1014.9"/><use href="#st" class="s5" x="1203.6" y="1014.9"/>
<g class="hm"><rect x="1169.3" y="1022.7" width="22.2" height="15.5" fill="#f7b283"/><rect x="1193" y="1022.7" width="22.2" height="15.5" fill="#8fb4d9"/></g></g>

<g id="b-lysope2"><text class="m" x="1375.3" y="1019">LysoPE (<tspan font-style="italic">sn</tspan>-2)</text>
<use href="#st" class="s4" x="1350.6" y="1028.6"/><use href="#st" class="s5" x="1374.6" y="1028.6"/><use href="#st" class="s6" x="1398.3" y="1028.6"/>
<text class="i" x="1332.3" y="1048.4">M59</text><text class="i" x="1332.3" y="1063.6">M64</text>
<circle cx="1350.6" cy="1044.1" r="8" fill="#1f5fa5"/><circle cx="1374.6" cy="1044.1" r="8" fill="#c0545a"/><circle cx="1398.3" cy="1044.1" r="8" fill="#f0dcdd"/>
<circle cx="1350.6" cy="1059.3" r="8" fill="#6c98c6"/><circle cx="1374.6" cy="1059.3" r="8" fill="#c96a70"/></g>

</g>
</svg>
